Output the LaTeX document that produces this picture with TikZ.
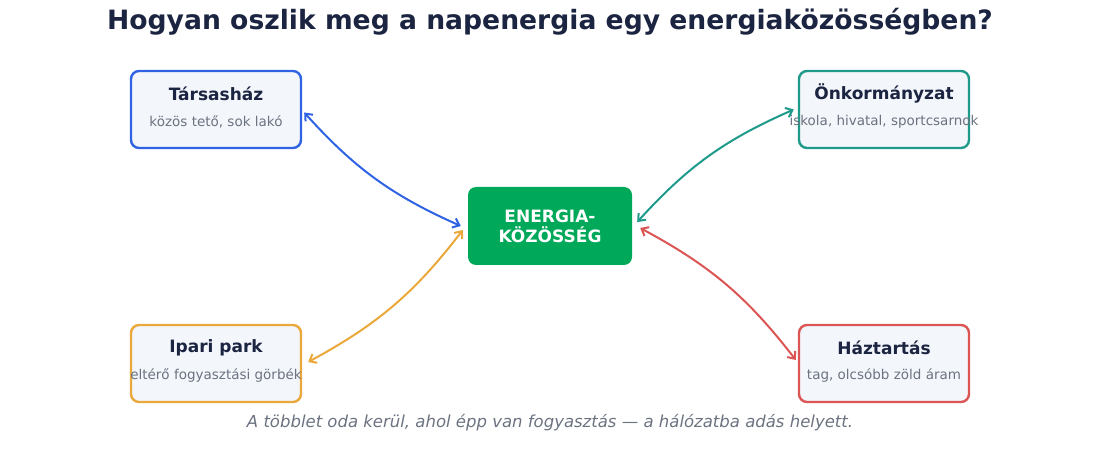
\documentclass[tikz,border=0pt]{standalone}
\usepackage{fontspec}
\setmainfont{DejaVu Sans}
\usetikzlibrary{arrows.meta,positioning}
\definecolor{titlec}{HTML}{1B2440}
\definecolor{subc}{HTML}{6B7280}
\definecolor{boxfill}{HTML}{F3F6FB}
\definecolor{cblue}{HTML}{2F63E3}
\definecolor{cteal}{HTML}{1E9A8B}
\definecolor{corange}{HTML}{EBA83A}
\definecolor{cred}{HTML}{DC5555}
\definecolor{cgreen}{HTML}{00A859}
\tikzset{
  member/.style={draw=#1, line width=2.4pt, fill=boxfill, rounded corners=8pt,
    minimum width=170pt, minimum height=77pt, inner sep=0pt},
  hubbox/.style={fill=cgreen, rounded corners=8pt, minimum width=164pt,
    minimum height=78pt, inner sep=0pt},
  mtitle/.style={text=titlec, font=\fontsize{17}{20}\selectfont\bfseries, inner sep=0pt},
  msub/.style={text=subc, font=\fontsize{13.5}{16}\selectfont, inner sep=0pt},
  flow/.style={draw=#1, line width=2pt, {Straight Barb[length=6pt,width=10pt]}-{Straight Barb[length=6pt,width=10pt]}}
}
\begin{document}
\begin{tikzpicture}[x=1pt,y=1pt]
\useasboundingbox (0,0) rectangle (1100,450);
\node[text=titlec, font=\fontsize{26.6}{30}\selectfont\bfseries] (title) at (550,428) {Hogyan oszlik meg a napenergia egy energiaközösségben?};

\node[member=cblue] (tars) at (216,340.5) {};
\node[member=cteal] (onk) at (884,340.5) {};
\node[member=corange] (ipari) at (216,86.5) {};
\node[member=cred] (haz) at (884,86.5) {};
\node[hubbox] (hub) at (550,224) {};

\node[mtitle] (tarsT) at ([yshift=16pt]tars.center) {Társasház};
\node[msub] (tarsS) at ([yshift=-12.5pt]tars.center) {közös tető, sok lakó};
\node[mtitle] (onkT) at ([yshift=16pt]onk.center) {Önkormányzat};
\node[msub] (onkS) at ([yshift=-12.5pt]onk.center) {iskola, hivatal, sportcsarnok};
\node[mtitle] (ipariT) at ([yshift=15.5pt]ipari.center) {Ipari park};
\node[msub] (ipariS) at ([yshift=-12.5pt]ipari.center) {eltérő fogyasztási görbék};
\node[mtitle] (hazT) at ([yshift=15.5pt]haz.center) {Háztartás};
\node[msub] (hazS) at ([yshift=-12.5pt]haz.center) {tag, olcsóbb zöld áram};

\node[text=white, font=\fontsize{17}{20}\selectfont\bfseries, align=center, inner sep=0pt] (hubT) at (hub.center) {ENERGIA-\\KÖZÖSSÉG};

\draw[flow=cblue] ([xshift=2pt,yshift=-3pt]tars.east) to[bend right=12] ([xshift=-7pt]hub.west);
\draw[flow=cteal] ([xshift=5pt,yshift=4pt]hub.east) to[bend left=12] ([xshift=-4pt]onk.west);
\draw[flow=corange] ([xshift=6pt,yshift=1.5pt]ipari.east) to[bend right=12] ([xshift=-5pt,yshift=-4pt]hub.west);
\draw[flow=cred] ([xshift=8pt,yshift=-2pt]hub.east) to[bend left=12] ([xshift=-2pt,yshift=3.5pt]haz.west);

\node[text=subc, font=\fontsize{16.5}{19}\selectfont\itshape] (cap) at (550,27) {A többlet oda kerül, ahol épp van fogyasztás — a hálózatba adás helyett.};
\end{tikzpicture}
\end{document}
